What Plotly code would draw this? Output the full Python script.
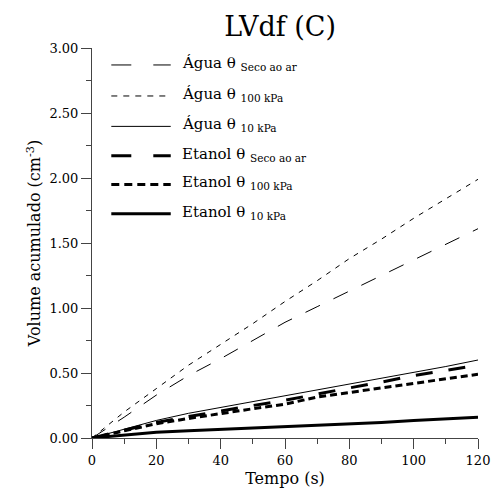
import plotly.graph_objects as go

# Tempo (s)
tempo = [0, 10, 20, 30, 40, 50, 60, 70, 80, 90, 100, 110, 120]

# Volume acumulado (cm-3) for each liquid / moisture condition
agua_seco = [0, 0.16, 0.33, 0.48, 0.61, 0.75, 0.89, 1.01, 1.13, 1.25, 1.37, 1.49, 1.61]
agua_100 = [0, 0.20, 0.38, 0.56, 0.72, 0.88, 1.05, 1.21, 1.38, 1.53, 1.69, 1.84, 1.99]
agua_10 = [0, 0.07, 0.135, 0.19, 0.235, 0.28, 0.32, 0.365, 0.41, 0.455, 0.505, 0.55, 0.60]
etanol_seco = [0, 0.06, 0.12, 0.165, 0.21, 0.25, 0.29, 0.34, 0.385, 0.43, 0.48, 0.52, 0.56]
etanol_100 = [0, 0.055, 0.11, 0.15, 0.19, 0.225, 0.26, 0.315, 0.35, 0.385, 0.42, 0.455, 0.49]
etanol_10 = [0, 0.025, 0.045, 0.055, 0.065, 0.075, 0.085, 0.095, 0.105, 0.12, 0.135, 0.147, 0.16]

series_names = [
    "Água θ <sub>Seco ao ar</sub>",
    "Água θ <sub>100 kPa</sub>",
    "Água θ <sub>10 kPa</sub>",
    "Etanol θ <sub>Seco ao ar</sub>",
    "Etanol θ <sub>100 kPa</sub>",
    "Etanol θ <sub>10 kPa</sub>",
]
series_values = [agua_seco, agua_100, agua_10, etanol_seco, etanol_100, etanol_10]

# line styles: (width, dash in plot, dash in legend key)
styles = [
    (1, "16px,15px", "20px,22px"),
    (1, "5px,6px", "6px,6px"),
    (1, "solid", "solid"),
    (3, "17px,16px", "20px,22px"),
    (3, "7px,4px", "8px,5px"),
    (3, "solid", "solid"),
]

FONT = "DejaVu Serif"

fig = go.Figure()
for name, vals, (w, dash, _) in zip(series_names, series_values, styles):
    fig.add_trace(go.Scatter(
        x=tempo, y=vals, mode="lines", name=name,
        line=dict(color="black", width=w, dash=dash),
        showlegend=False,
    ))

# hand-drawn legend block in the upper left of the plot area
key_x0, key_x1, text_x = 0.050, 0.204, 0.227
row_y = [0.9565, 0.877, 0.799, 0.724, 0.650, 0.575]
for name, (w, _, kdash), y in zip(series_names, styles, row_y):
    fig.add_shape(type="line", xref="paper", yref="paper",
                  x0=key_x0, x1=key_x1, y0=y, y1=y,
                  line=dict(color="black", width=w, dash=kdash))
    fig.add_annotation(xref="paper", yref="paper", x=text_x, y=y + 0.004,
                       text=name, showarrow=False, xanchor="left", yanchor="middle",
                       font=dict(family=FONT, size=15, color="black"))

axis_common = dict(
    showgrid=False, zeroline=False, showline=True, linecolor="#444", linewidth=1,
    ticks="outside", ticklen=10, tickwidth=1, tickcolor="#444",
    tickfont=dict(family=FONT, size=13, color="black"),
    mirror=False,
)

fig.update_layout(
    width=502, height=497,
    margin=dict(l=92, r=19, t=48, b=58),
    paper_bgcolor="white", plot_bgcolor="white",
    font=dict(family=FONT),
    title=dict(text="LVdf (C)", x=0.558, xref="container", xanchor="center",
               y=1 - 27 / 497, yref="container", yanchor="middle",
               font=dict(family=FONT, size=27, color="black")),
    xaxis=dict(
        range=[0, 120], tickvals=[0, 20, 40, 60, 80, 100, 120],
        minor=dict(ticks="outside", ticklen=5, dtick=10, tickcolor="#444", showgrid=False),
        title=dict(text="Tempo (s)", font=dict(family=FONT, size=16, color="black"), standoff=6),
        **axis_common,
    ),
    yaxis=dict(
        range=[0, 3], tickvals=[0, 0.5, 1, 1.5, 2, 2.5, 3], tickformat=".2f",
        minor=dict(ticks="outside", ticklen=5, dtick=0.25, tickcolor="#444", showgrid=False),
        title=dict(text="Volume acumulado (cm<sup>-3</sup>)",
                   font=dict(family=FONT, size=16, color="black"), standoff=4),
        **axis_common,
    ),
)

fig.write_html("out.html")
